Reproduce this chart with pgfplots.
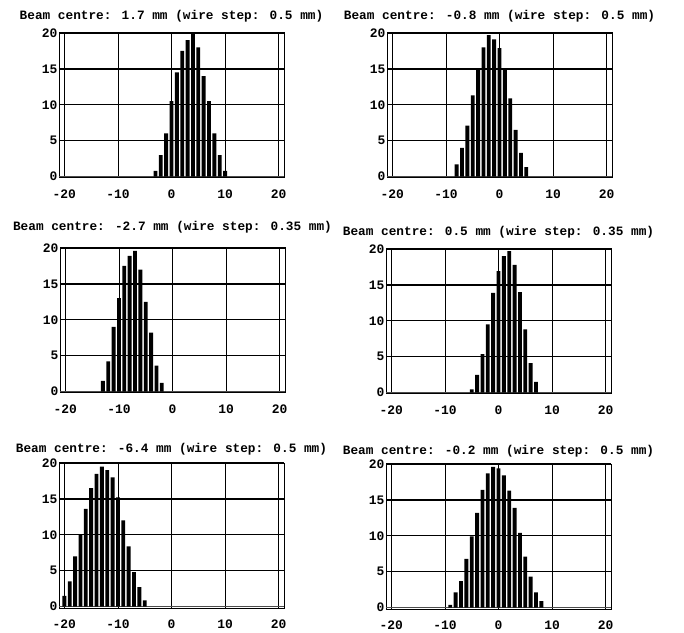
\documentclass[border=0pt]{standalone}
\usepackage{fontspec}
\setmainfont{Liberation Mono}
\usepackage{pgfplots}
\pgfplotsset{compat=1.18}
\pgfplotsset{
 beam/.style={
  scale only axis, width=225bp, height=145bp,
  anchor=south west,
  xmin=-21, xmax=21, ymin=-0.2, ymax=20,
  xtick={-20,-10,0,10,20}, ytick={0,5,10,15,20},
  grid=major,
  x grid style={black, line width=0.8pt},
  y grid style={black, line width=1.4pt},
  axis line style={black, line width=1pt},
  tick style={draw=none},
  /pgf/number format/assume math mode=true,
  tick label style={font=\fontsize{13}{13}\selectfont\bfseries},
  xticklabel style={yshift=-8bp},
  yticklabel style={xshift=2bp},
  title style={font=\fontsize{12.8}{13}\selectfont\bfseries, anchor=base, at={(0.5,1)}},
 },
 bars/.style={ybar, fill=black, draw=none, bar width=0.72},
 base/.style={black!70, line width=0.6pt},
}
\begin{document}
\begin{tikzpicture}
\useasboundingbox (0,0) rectangle (684bp,633bp);
% Panel 1
\begin{axis}[beam, at={(59bp,455bp)}, title style={yshift=8bp}, title={Beam centre: 1.7 mm (wire step: 0.5 mm)}]
\addplot[base] coordinates {(-21,0) (21,0)};
\addplot[bars] coordinates {(-3,0.8) (-2,3) (-1,6) (0,10.5) (1,14.5) (2,17.5) (3,19) (4,20) (5,18) (6,14) (7,10.5) (8,6) (9,3) (10,0.8)};
\end{axis}
% Panel 2
\begin{axis}[beam, at={(387bp,455bp)}, title style={yshift=8bp}, title={Beam centre: -0.8 mm (wire step: 0.5 mm)}]
\addplot[base] coordinates {(-21,0) (21,0)};
\addplot[bars] coordinates {(-8,1.7) (-7,4) (-6,7.1) (-5,11.3) (-4,15) (-3,18) (-2,19.7) (-1,19.1) (0,17.9) (1,15) (2,10.9) (3,6.5) (4,3.3) (5,1.3)};
\end{axis}
% Panel 3
\begin{axis}[beam, at={(60bp,240bp)}, title style={yshift=12bp}, title={Beam centre: -2.7 mm (wire step: 0.35 mm)}]
\addplot[base] coordinates {(-21,0) (21,0)};
\addplot[bars] coordinates {(-13,1.5) (-12,4.2) (-11,9) (-10,13) (-9,17.5) (-8,18.9) (-7,19.6) (-6,17) (-5,12.5) (-4,8.2) (-3,3.6) (-2,1.2)};
\end{axis}
% Panel 4
\begin{axis}[beam, at={(386bp,239bp)}, title style={yshift=8bp}, title={Beam centre: 0.5 mm (wire step: 0.35 mm)}]
\addplot[base] coordinates {(-21,0) (21,0)};
\addplot[bars] coordinates {(-5,0.45) (-4,2.45) (-3,5.35) (-2,9.5) (-1,13.9) (0,16.9) (1,19) (2,19.7) (3,17.8) (4,14) (5,8.8) (6,4.1) (7,1.5)};
\end{axis}
% Panel 5
\begin{axis}[beam, at={(59bp,25bp)}, title style={yshift=5bp}, title={Beam centre: -6.4 mm (wire step: 0.5 mm)}]
\addplot[base] coordinates {(-21,0) (21,0)};
\addplot[bars] coordinates {(-20,1.5) (-19,3.5) (-18,7) (-17,10) (-16,13.6) (-15,16.5) (-14,18.5) (-13,19.5) (-12,19) (-11,18) (-10,15.2) (-9,12) (-8,8.4) (-7,4.8) (-6,2.7) (-5,0.85)};
\end{axis}
% Panel 6
\begin{axis}[beam, at={(386bp,24bp)}, title style={yshift=4bp}, title={Beam centre: -0.2 mm (wire step: 0.5 mm)}]
\addplot[base] coordinates {(-21,0) (21,0)};
\addplot[bars] coordinates {(-9,0.37) (-8,2.1) (-7,3.7) (-6,6.8) (-5,9.9) (-4,13.2) (-3,16.4) (-2,18.7) (-1,19.6) (0,19.4) (1,18.4) (2,16.3) (3,13.9) (4,10.4) (5,7.1) (6,4.3) (7,2.1) (8,0.9)};
\end{axis}
\end{tikzpicture}
\end{document}
